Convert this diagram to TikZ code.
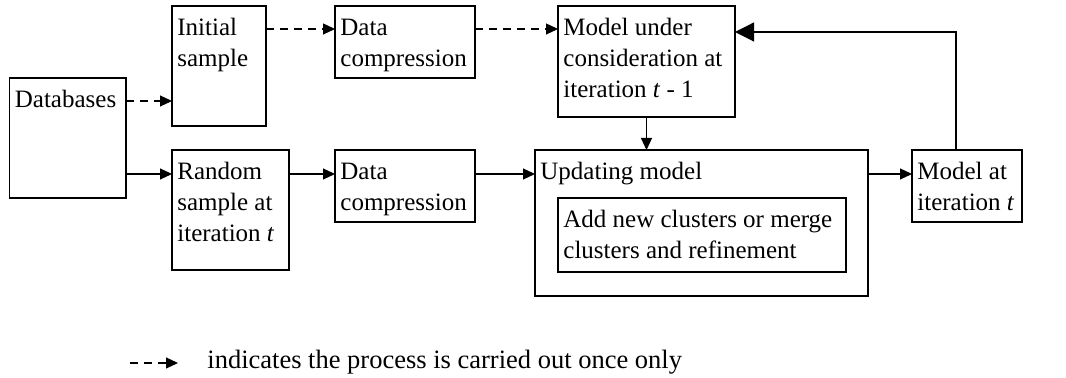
\documentclass[tikz,border=0pt]{standalone}
\usepackage{fontspec}
\setmainfont{Liberation Serif}
\usetikzlibrary{arrows.meta}
\newcommand\diafont{\fontsize{12.5}{15.6}\selectfont}
\newcommand\legfont{\fontsize{13.25}{16}\selectfont}
\tikzset{
  bx/.style 2 args={draw, line width=0.65pt, minimum width=#1*0.5pt, minimum height=#2*0.5pt, inner sep=0pt, outer sep=0pt},
  lbl/.style={anchor=north west, align=left, inner xsep=2.5pt, inner ysep=3.58pt, font=\diafont},
  conn/.style={line width=0.6pt, -{Triangle[length=6pt,width=5.5pt]}},
  dconn/.style={conn, dash pattern=on 4pt off 3pt},
  bigconn/.style={line width=0.6pt, -{Triangle[length=9.5pt,width=9.5pt]}},
}
\begin{document}
\begin{tikzpicture}[x=0.5pt,y=-0.5pt]
\useasboundingbox (0,0) rectangle (1066,378);
% boxes
\node[bx={116.5}{120}] (db)  at (67.75,138) {};
\node[bx={94}{120}]    (init) at (219,66) {};
\node[bx={140}{72}]    (dc1) at (405,42) {};
\node[bx={117}{120}]   (rnd) at (230.5,210) {};
\node[bx={140}{72}]    (dc2) at (405,186) {};
\node[bx={177}{111}]   (muc) at (646.5,61.5) {};
\node[bx={333}{146}]   (upd) at (701.5,223) {};
\node[bx={288}{74}]    (inn) at (702,235) {};
\node[bx={110}{72}]    (mat) at (967,186) {};
% texts
\node[lbl] (tdb)  at (db.north west)  {\strut Databases};
\node[lbl] (tinit) at (init.north west) {\strut Initial\\sample};
\node[lbl] (tdc1) at (dc1.north west) {\strut Data\\compression};
\node[lbl] (trnd) at (rnd.north west) {\strut Random\\sample at\\iteration \textit{t}};
\node[lbl] (tdc2) at (dc2.north west) {\strut Data\\compression};
\node[lbl] (tmuc) at (muc.north west) {\strut Model under\\consideration at\\iteration \textit{t} - 1};
\node[lbl] (tupd) at (upd.north west) {\strut Updating model};
\node[lbl] (tinn) at (inn.north west) {\strut Add new clusters or merge\\clusters and refinement};
\node[lbl] (tmat) at (mat.north west) {\strut Model at\\iteration \textit{t}};
% connectors
\draw[dconn] (db.east |- 0,101) -- (init.west |- 0,101);
\draw[conn]  (db.east |- 0,174) -- (rnd.west |- 0,174);
\draw[dconn] (init.east |- 0,29) -- (dc1.west |- 0,29);
\draw[dconn] (dc1.east |- 0,29) -- (muc.west |- 0,29);
\draw[conn]  (rnd.east |- 0,174) -- (dc2.west |- 0,174);
\draw[conn]  (dc2.east |- 0,174) -- (upd.west |- 0,174);
\draw[conn]  (muc.south) -- (muc.south |- upd.north);
\draw[conn]  (upd.east |- 0,174) -- (mat.west |- 0,174);
\draw[bigconn] ([xshift=-5.5pt]mat.north) |- (muc.east |- 0,32);
% legend
\coordinate (lg1) at (130,363);
\coordinate (lg2) at (178,363);
\draw[dconn] (lg1) -- (lg2);
\node[anchor=base west, inner sep=0pt, font=\legfont] (lgt) at (207,369) {indicates the process is carried out once only};
\end{tikzpicture}
\end{document}
